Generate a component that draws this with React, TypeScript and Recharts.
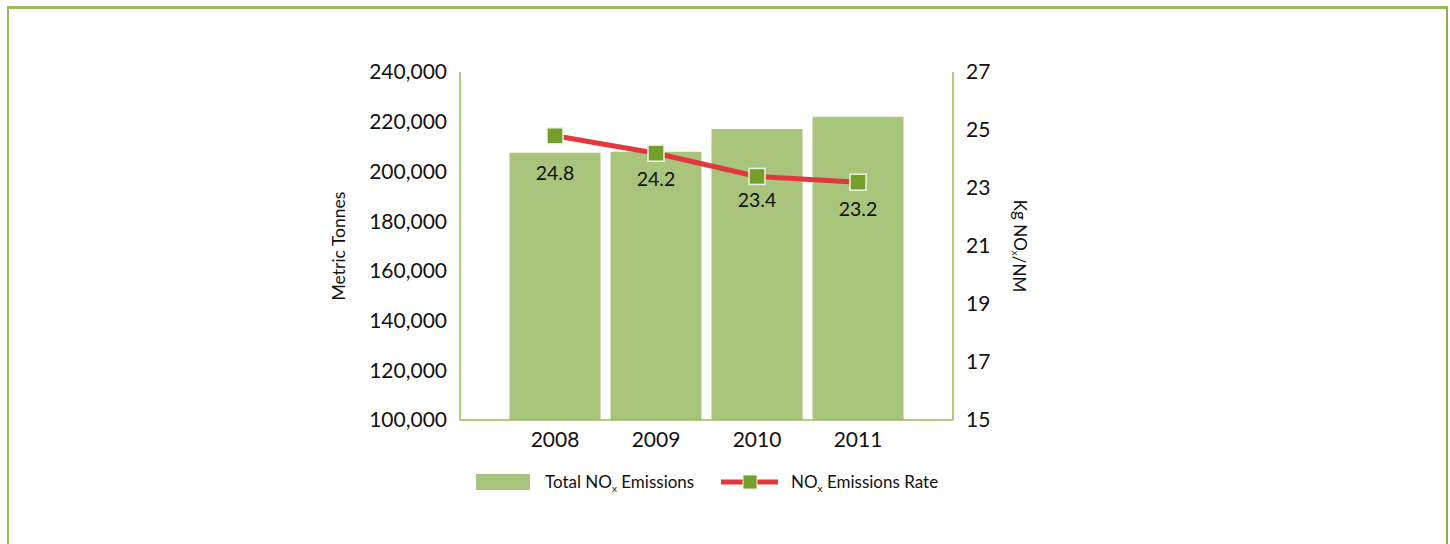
import React from 'react';
import { ComposedChart, Bar, Line, XAxis, YAxis, LabelList } from 'recharts';

const years = ['2008', '2009', '2010', '2011'];
const totalEmissions = [207500, 207900, 217100, 222000];
const emissionsRate = [24.8, 24.2, 23.4, 23.2];
const leftTicks = [100000, 120000, 140000, 160000, 180000, 200000, 220000, 240000];
const rightTicks = [15, 17, 19, 21, 23, 25, 27];
const labelOffsets = [37, 25, 23, 26];

const data = years.map((y, i) => ({ year: y, total: totalEmissions[i], rate: emissionsRate[i] }));

const FONT = 'Lato, "Open Sans", sans-serif';
const GREEN_AXIS = '#9bbb59';
const BAR = '#a9c47b';
const RED = '#e2373c';
const MARK = '#73a02b';

const SquareDot = (props: any) => {
  const { cx, cy } = props;
  if (cx == null || cy == null) return null;
  return <rect x={cx - 8} y={cy - 8} width={16} height={16} fill={MARK} stroke="#eef3e4" strokeWidth={1.5} />;
};

const RateLabel = (props: any) => {
  const { x, y, value, index } = props;
  return (
    <text x={x} y={y + labelOffsets[index]} textAnchor="middle" dominantBaseline="central" fontSize={19.5} fontFamily={FONT} fill="#111">
      {value}
    </text>
  );
};

const LegendBox = () => (
  <div style={{ position: 'absolute', left: 0, top: 466, width: 1450, height: 30, fontFamily: FONT, fontSize: 17, color: '#111' }}>
    <div style={{ position: 'absolute', left: 476, top: 8, width: 54, height: 16, background: BAR }} />
    <div style={{ position: 'absolute', left: 545, top: 5, whiteSpace: 'nowrap', lineHeight: '22px' }}>
      Total NO<sub style={{ fontSize: 10 }}>x</sub> Emissions
    </div>
    <svg style={{ position: 'absolute', left: 720, top: 6 }} width={60} height={20}>
      <line x1={1} y1={10} x2={58} y2={10} stroke={RED} strokeWidth={5} />
      <rect x={23} y={3} width={14} height={14} fill={MARK} stroke="#eef3e4" strokeWidth={1} />
    </svg>
    <div style={{ position: 'absolute', left: 791, top: 5, whiteSpace: 'nowrap', lineHeight: '22px' }}>
      NO<sub style={{ fontSize: 10 }}>x</sub> Emissions Rate
    </div>
  </div>
);

const fmt = (v: number) => v.toLocaleString('en-US');

export default function App() {
  return (
    <div style={{ position: 'absolute', left: 0, top: 0, width: 1450, height: 544, overflow: 'hidden', background: '#fff' }}>
      <div style={{ position: 'absolute', left: 7, top: 6, width: 1437, height: 600, borderLeft: `2px solid ${GREEN_AXIS}`, borderTop: `3px solid ${GREEN_AXIS}`, borderRight: `2px solid #8bb04a` }} />
      <div style={{ position: 'absolute', left: 0, top: 0 }}>
        <ComposedChart width={1450} height={544} data={data} margin={{ top: 72, bottom: 94, left: 360, right: 417 }}>
          <XAxis
            dataKey="year"
            height={30}
            padding={{ left: 44.5, right: 44.5 }}
            axisLine={{ stroke: GREEN_AXIS, strokeWidth: 1.5 }}
            tickLine={false}
            tickSize={4}
            tickMargin={8}
            tick={{ fontSize: 21, fontFamily: FONT, fill: '#111' }}
          />
          <YAxis
            yAxisId="left"
            width={100}
            domain={[100000, 240000]}
            ticks={leftTicks}
            tickFormatter={fmt}
            axisLine={{ stroke: GREEN_AXIS, strokeWidth: 1.5 }}
            tickLine={false}
            tickSize={6}
            tickMargin={7}
            tick={{ fontSize: 21, fontFamily: FONT, fill: '#111' }}
            label={(p: any) => {
              const vb = p.viewBox;
              const cx = 338;
              const cy = vb.y + vb.height / 2;
              return (
                <text transform={`translate(${cx},${cy}) rotate(-90)`} textAnchor="middle" dominantBaseline="central" fontSize={17.5} fontFamily={FONT} fill="#111">
                  Metric Tonnes
                </text>
              );
            }}
          />
          <YAxis
            yAxisId="right"
            orientation="right"
            width={80}
            domain={[15, 27]}
            ticks={rightTicks}
            axisLine={{ stroke: GREEN_AXIS, strokeWidth: 1.5 }}
            tickLine={false}
            tickSize={6}
            tickMargin={7}
            tick={{ fontSize: 21, fontFamily: FONT, fill: '#111' }}
            label={(p: any) => {
              const vb = p.viewBox;
              const cx = vb.x + 67;
              const cy = vb.y + vb.height / 2;
              return (
                <text transform={`translate(${cx},${cy}) rotate(90)`} textAnchor="middle" dominantBaseline="central" fontSize={17} fontFamily={FONT} fill="#111">
                  Kg NO<tspan fontSize={10} dy={4}>x</tspan><tspan dy={-4}>/NM</tspan>
                </text>
              );
            }}
          />
          <Bar yAxisId="left" dataKey="total" fill={BAR} barSize={91} isAnimationActive={false} />
          <Line yAxisId="right" dataKey="rate" stroke={RED} strokeWidth={5} dot={<SquareDot />} activeDot={false} isAnimationActive={false}>
            <LabelList dataKey="rate" content={<RateLabel />} />
          </Line>
        </ComposedChart>
      </div>
      <LegendBox />
    </div>
  );
}
